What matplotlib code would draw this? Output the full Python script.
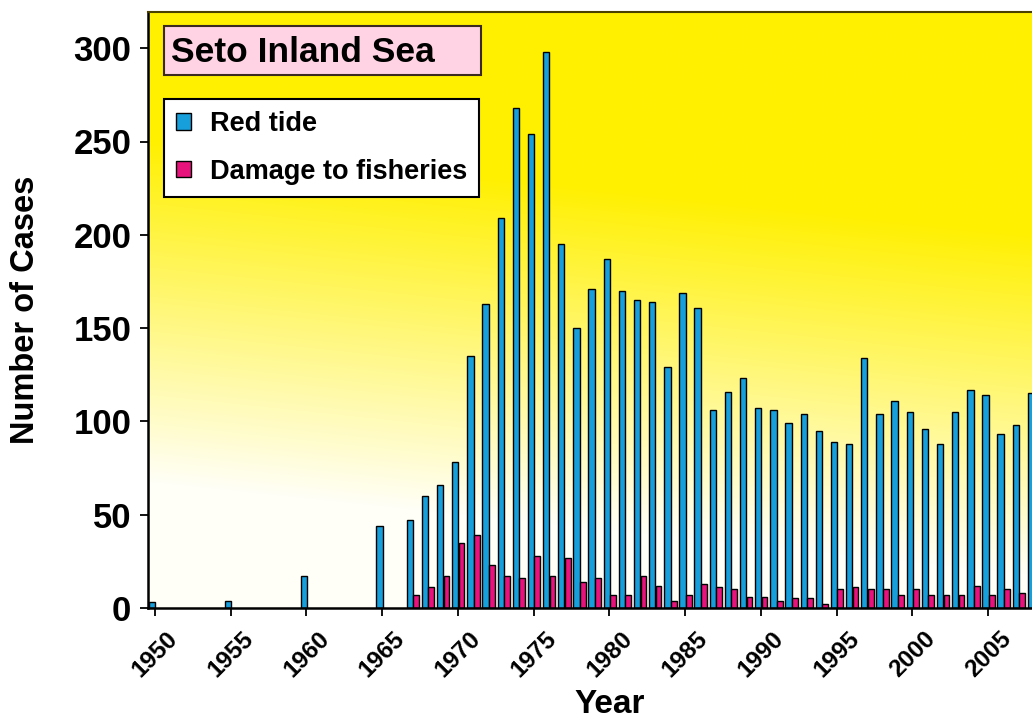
import numpy as np
import matplotlib
matplotlib.use('Agg')
import matplotlib.pyplot as plt
from matplotlib.patches import Rectangle

# ---------------- data ----------------
years = [1950, 1955, 1960, 1965, 1967, 1968, 1969, 1970, 1971, 1972, 1973, 1974,
         1975, 1976, 1977, 1978, 1979, 1980, 1981, 1982, 1983, 1984, 1985, 1986,
         1987, 1988, 1989, 1990, 1991, 1992, 1993, 1994, 1995, 1996, 1997, 1998,
         1999, 2000, 2001, 2002, 2003, 2004, 2005, 2006, 2007, 2008]
red_tide = [3, 4, 17, 44, 47, 60, 66, 78, 135, 163, 209, 268,
            254, 298, 195, 150, 171, 187, 170, 165, 164, 129, 169, 161,
            106, 116, 123, 107, 106, 99, 104, 95, 89, 88, 134, 104,
            111, 105, 96, 88, 105, 117, 114, 93, 98, 115]
damage = [np.nan, np.nan, np.nan, np.nan, 7, 11, 17, 35, 39, 23, 17, 16,
          28, 17, 27, 14, 16, 7, 7, 17, 12, 4, 7, 13,
          11, 10, 6, 6, 4, 5.5, 5.5, 2, 10, 11, 10, 10,
          7, 10, 7, 7, 7, 12, 7, 10, 8, np.nan]
xtick_years = [1950, 1955, 1960, 1965, 1970, 1975, 1980, 1985, 1990, 1995, 2000, 2005]
ytick_vals = [0, 50, 100, 150, 200, 250, 300]
series_labels = ['Red tide', 'Damage to fisheries']

# ---------------- style ----------------
plt.rcParams['font.family'] = ['Liberation Sans', 'DejaVu Sans']
plt.rcParams['font.weight'] = 'bold'

BLUE = '#179FDC'
PINK = '#E8127C'

fig = plt.figure(figsize=(10.32, 7.22), dpi=100)
W, H = 1032, 722
ax_l, ax_b, ax_r, ax_t = 148, 608, 1032, 12
ax = fig.add_axes([ax_l / W, (H - ax_b) / H, (ax_r - ax_l) / W, (ax_b - ax_t) / H])

xmin = 1949.54
xmax = xmin + (ax_r - ax_l) / 15.15
ymax = (ax_b - ax_t) / 1.866

# gradient background
nx, ny = 400, 300
U, V = np.meshgrid(np.linspace(0, 1, nx), np.linspace(0, 1, ny))
s = np.clip(1.73 * V + 0.27 * U - 0.36, 0, 1)
yellow = np.array([255, 240, 0]) / 255
white = np.array([255, 255, 248]) / 255
img = white + (yellow - white) * s[..., None]
ax.imshow(img, extent=[xmin, xmax, 0, ymax], origin='lower', aspect='auto',
          zorder=0, interpolation='bilinear')

yrs = np.array(years, dtype=float)
ax.bar(yrs - 0.18, red_tide, width=0.42, color=BLUE, edgecolor='black',
       linewidth=1.0, label=series_labels[0], zorder=2)
ax.bar(yrs + 0.24, damage, width=0.38, color=PINK, edgecolor='black',
       linewidth=1.0, label=series_labels[1], zorder=2)

ax.set_xlim(xmin, xmax)
ax.set_ylim(0, ymax)
ax.set_xticks(xtick_years)
ax.set_xticklabels([str(y) for y in xtick_years])
ax.set_yticks(ytick_vals)
ax.set_yticklabels([str(v) for v in ytick_vals])

ax.tick_params(axis='y', labelsize=25, length=6, width=1.3, pad=6)
ax.tick_params(axis='x', labelsize=17.5, length=6, width=1.3, pad=8, labelrotation=45)

ax.spines['right'].set_visible(False)
ax.spines['top'].set_color('#4a4000')
ax.spines['top'].set_linewidth(1.5)
for sp in ('left', 'bottom'):
    ax.spines[sp].set_color('black')
    ax.spines[sp].set_linewidth(1.8)

# axis labels
ax.set_xlabel('Year', fontsize=24, fontweight='bold', va='bottom')
ax.xaxis.set_label_coords((610 - ax_l) / (ax_r - ax_l), (ax_b - 720) / (ax_b - ax_t))
ax.set_ylabel('Number of Cases', fontsize=23.5, fontweight='bold', va='center')
ax.yaxis.set_label_coords((26 - ax_l) / (ax_r - ax_l), 0.5)

def axu(px):
    return (px - ax_l) / (ax_r - ax_l)

def axv(py):
    return (ax_b - py) / (ax_b - ax_t)

# title box
ax.add_patch(Rectangle((axu(164), axv(75)), axu(481) - axu(164), axv(26) - axv(75),
                       transform=ax.transAxes, facecolor='#FFD3E3', edgecolor='#3b2a20',
                       linewidth=1.5, zorder=5, clip_on=False))
ax.text(axu(171), axv(61.5), 'Seto Inland Sea', transform=ax.transAxes, fontsize=25.5,
        fontweight='bold', ha='left', va='baseline', zorder=6)

# legend
leg = ax.legend(loc='upper left', bbox_to_anchor=(axu(164), axv(99)), borderaxespad=0,
                prop={'size': 19.5, 'weight': 'bold'}, handlelength=0.55, handleheight=0.55,
                handletextpad=0.7, borderpad=0.45, labelspacing=0.8, frameon=True,
                fancybox=False, framealpha=1, edgecolor='black', facecolor='white')
leg.get_frame().set_linewidth(1.5)
leg.set_zorder(6)

fig.savefig('out.png', dpi=100)
